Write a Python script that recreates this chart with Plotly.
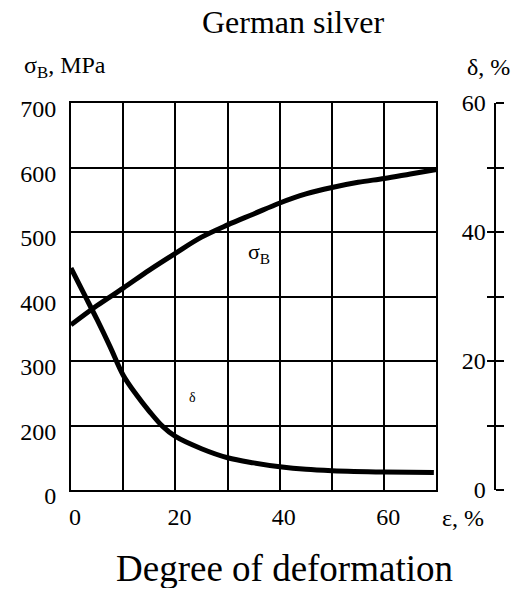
import plotly.graph_objects as go

# ---- data ----
eps_sigma = [0, 5, 10, 15, 20, 25, 30, 35, 40, 45, 50, 55, 60, 65, 70]
sigma_b = [356, 386, 413, 441, 467, 492, 511, 528, 545, 559, 569, 577, 583, 590, 597]

eps_delta = [0, 2.5, 5, 7.5, 10, 12.5, 15, 17.5, 20, 25, 30, 35, 40, 45, 50, 60, 69.5]
delta = [34.4, 30.4, 26.4, 22.2, 17.8, 14.8, 12.2, 9.9, 8.3, 6.4, 5.0, 4.2, 3.6, 3.2, 3.0, 2.8, 2.7]

x_tickvals = [0, 10, 20, 30, 40, 50, 60, 70]
x_ticktext = ["0", " ", "20", " ", "40", " ", "60", " "]
y_tickvals = [100, 200, 300, 400, 500, 600, 700]
y_ticktext = ["0", "200", "300", "400", "500", "600", "700"]
y2_tickvals = [0, 10, 20, 30, 40, 50, 60]
y2_ticktext = ["0", " ", "20", " ", "40", " ", "60"]

FONT = "Liberation Serif"
OFF = 8  # page body margin
W, H = 525 - OFF - 1, 589 - OFF - 1
L = 68 - OFF
T = 103 - OFF
PLOT_BOTTOM = 490 - OFF
B = H - PLOT_BOTTOM
R = W - (505 - OFF)
PW = W - L - R
PH = H - T - B


def px(x):
    return (x - OFF - L) / PW


def py(y):
    return (PLOT_BOTTOM - (y - OFF)) / PH


xdom_end = px(436)

fig = go.Figure()
fig.add_trace(go.Scatter(x=eps_sigma, y=sigma_b, mode="lines",
                         line=dict(color="black", width=5, shape="spline"),
                         yaxis="y", showlegend=False, hoverinfo="skip"))
fig.add_trace(go.Scatter(x=eps_delta, y=delta, mode="lines",
                         line=dict(color="black", width=5, shape="spline"),
                         yaxis="y2", showlegend=False, hoverinfo="skip"))
fig.add_trace(go.Scatter(x=[None], y=[None], yaxis="y3", showlegend=False))

axis_font = dict(family=FONT, size=24, color="black")


def label(text, x, y, size=24, xref="paper", yref="paper"):
    return dict(text=text, xref=xref, yref=yref, x=x, y=y, xanchor="center",
                yanchor="middle", showarrow=False,
                font=dict(family=FONT, size=size, color="black"))


fig.update_layout(
    width=W, height=H,
    margin=dict(l=L, r=R, t=T, b=B, pad=0),
    paper_bgcolor="white", plot_bgcolor="white",
    font=dict(family=FONT, color="black"),
    title=dict(text="German silver", x=(293 - OFF) / W, xanchor="center",
               y=1 - (22 - OFF) / H, yanchor="middle", yref="container",
               font=dict(family=FONT, size=32, color="black")),
    xaxis=dict(domain=[0, xdom_end], range=[0, 70], tickvals=x_tickvals,
               ticktext=x_ticktext, showgrid=True, gridcolor="black", gridwidth=2,
               showline=True, linecolor="black", linewidth=2, mirror=True,
               ticks="", zeroline=False, tickfont=axis_font, ticklabelstandoff=4,
               ticklabelshift=4),
    yaxis=dict(range=[100, 700], tickvals=y_tickvals, ticktext=y_ticktext,
               showgrid=True, gridcolor="black", gridwidth=2,
               showline=True, linecolor="black", linewidth=2, mirror=True,
               ticks="", zeroline=False, tickfont=axis_font, ticklabelstandoff=8,
               ticklabelshift=6),
    yaxis2=dict(range=[0, 60], overlaying="y", side="right", anchor="free",
                position=px(495), tickvals=y2_tickvals, ticktext=y2_ticktext,
                showgrid=False, zeroline=False, showline=True, linecolor="black",
                linewidth=2, ticks="outside", ticklen=8, tickwidth=2, tickcolor="black",
                ticklabelposition="inside", ticklabeloverflow="allow",
                tickfont=axis_font, ticklabelstandoff=10, ticklabelshift=0),
    yaxis3=dict(range=[0, 60], overlaying="y", side="right", anchor="free",
                position=px(495), tickvals=y2_tickvals, showticklabels=False,
                showgrid=False, zeroline=False, showline=False,
                ticks="inside", ticklen=8, tickwidth=2, tickcolor="black"),
    annotations=[
        label("σ<sub>B</sub>, MPa", px(62), py(67)),
        label("δ, %", px(488), py(67)),
        label("ε, %", px(463), py(518)),
        label("Degree of deformation", px(283), py(568), size=37),
        label("σ<sub>B</sub>", 36, 467, size=22, xref="x", yref="y"),
        label("δ", 23.2, 14.3, size=14, xref="x", yref="y2"),
    ],
)

fig.write_html("out.html")
